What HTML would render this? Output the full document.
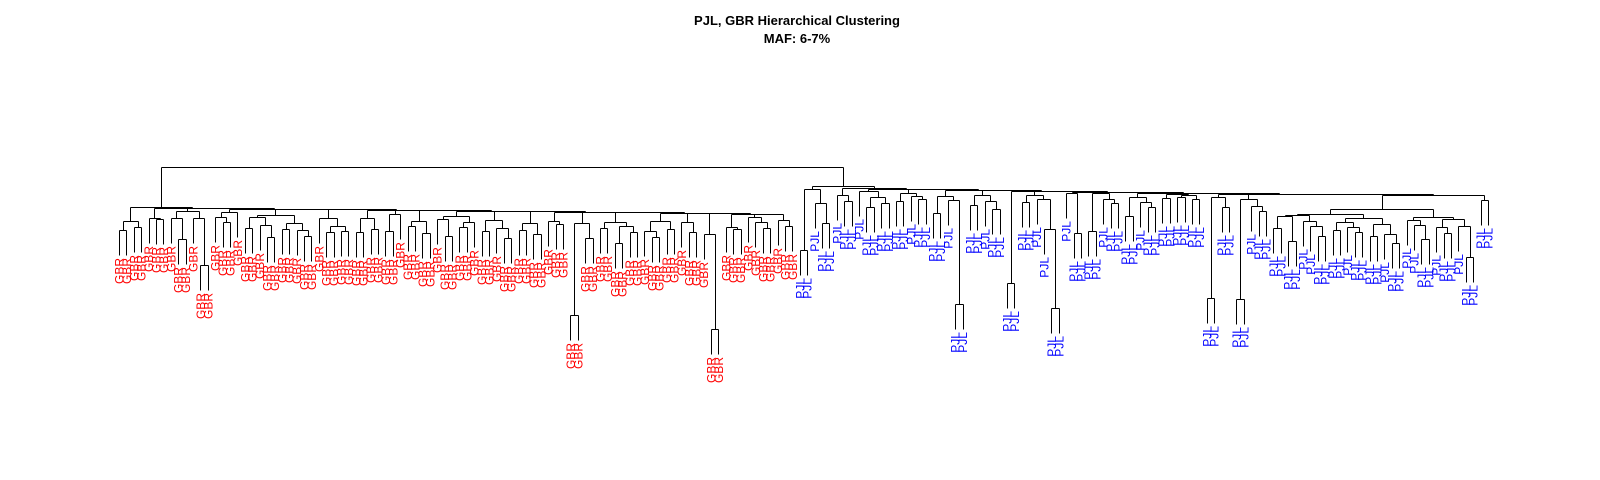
<!DOCTYPE html>
<html>
<head>
<meta charset="utf-8">
<style>
html,body{margin:0;padding:0;background:#fff;}
svg{display:block;}
text{font-family:"Liberation Sans",sans-serif;}
</style>
</head>
<body>
<svg id="chart" width="1600" height="480" viewBox="0 0 1600 480" xmlns="http://www.w3.org/2000/svg">
  <rect width="1600" height="480" fill="#fff"/>
  <text x="797" y="25" text-anchor="middle" font-size="13" font-weight="bold">PJL, GBR Hierarchical Clustering</text>
  <text x="797" y="43" text-anchor="middle" font-size="13" font-weight="bold">MAF: 6-7%</text>
  <g id="lines" stroke="#000" stroke-width="1" fill="none" shape-rendering="crispEdges"></g>
  <g id="labels" font-size="12"></g>
</svg>
<script>
// ---- data: merge heights (dissimilarity units) ----
const rootHeight = 173;
const gbrClusters = [
"((G G)110 (G G)113)119",
"(G (G G)121)122",
"((G (G G)101)122 (G (G G)75)122)129",
"((G (G G)118)123 G)128",
"(((G G)112 (G (G G)103)115)123 ((G G)111 (G (G G)104)110)117)125",
"(G ((G G)108 (G G)109)114)122",
"((G G)108 (G G)111)122",
"((G G)109 G)126",
"((G G)114 (G G)107)119",
"((G (G G)104)121 ((G G)113 G)118)124",
"((G G)109 (G (G G)102)112)120",
"((G G)110 (G G)106)117",
"(G (G G)116)119",
"((G G)25 (G G)102)117",
"((G G)112 ((G G)97 (G G)108)114)118",
"((G (G G)103)109 (G G)111)119",
"(G (G G)108)118",
"(G (G G)11)106",
"(G (G G)111)113",
"(G (G (G G)112)118)123",
"(G (G G)114)120"
];
const gbrJoins = [133,132,132,131,131,131,130,130,130,129,129,129,128,128,128,127,127,127,126,126];
const pjlClusters = [
"((P P)90 (P (P P)117)137)151",
"(P (P P)139)145",
"(P ((P P)133 (P P)137)143)149",
"((P P)139 (P (P P)141)144)147",
"((P P)127 (P (P P)36)140)144",
"((P P)135 (P (P P)131)139)145",
"(P P)57",
"((P P)138 (P (P (P P)32)111)141)145",
"(P (P P)107)147",
"((P P)109 (P (P P)137)141)147",
"((P P)124 (P (P P)133)138)143",
"((P P)142 ((P P)143 (P P)141)145)146",
"((P P)42 (P P)133)143",
"((P P)41 (P (P P)129)134)141",
"((((((P P)112 (P P)99)124 (P (P (P P)104)114)119)125 (((P P)110 (P (P P)108)113)118 ((P P)104 (P (P P)97)106)116)122)126 ((P (P (P P)101)115)120 ((P (P P)107)113 (P (P P)83)114)121)123)131 (P P)140)145"
];
const pjlJoins = [154,152,151,151,150,150,149,149,148,148,147,147,146,146];
const labelNames = {G:"GBR", P:"PJL"};
const labelColors = {G:"#ff0000", P:"#0000ff"};

// ---- layout ----
const x0 = 119, step = 7.4, hang = 25;
function ys(h){ return 340 - h; }

function ladder(clusters, joins){
  let s = clusters[clusters.length-1];
  for(let k = clusters.length-2; k >= 0; k--){
    s = "(" + clusters[k] + " " + s + ")" + joins[k];
  }
  return s;
}
const treeStr = "(" + ladder(gbrClusters, gbrJoins) + " " + ladder(pjlClusters, pjlJoins) + ")" + rootHeight;

function parse(str){
  let p = 0;
  function node(){
    while(str[p] === " ") p++;
    if(str[p] === "("){
      p++;
      const a = node();
      const b = node();
      while(str[p] === " ") p++;
      p++; // ')'
      let num = "";
      while(p < str.length && /[0-9.]/.test(str[p])){ num += str[p]; p++; }
      return {h: parseFloat(num), kids:[a,b]};
    } else {
      const c = str[p]; p++;
      return {leaf:c};
    }
  }
  return node();
}
const tree = parse(treeStr);

let leafIndex = 0;
function assignX(n){
  if(n.leaf){ n.x = x0 + step*leafIndex; leafIndex++; return n.x; }
  const a = assignX(n.kids[0]), b = assignX(n.kids[1]);
  n.x = (a+b)/2; return n.x;
}
assignX(tree);

const NS = "http://www.w3.org/2000/svg";
const gL = document.getElementById("lines");
const gT = document.getElementById("labels");
function line(x1,y1,x2,y2,name){
  const l = document.createElementNS(NS,"line");
  l.setAttribute("x1", Math.round(x1)+0.5); l.setAttribute("y1", Math.round(y1)+0.5);
  l.setAttribute("x2", Math.round(x2)+0.5); l.setAttribute("y2", Math.round(y2)+0.5);
  
  
  gL.appendChild(l);
}
function draw(n){
  const y = ys(n.h);
  line(n.kids[0].x, y, n.kids[1].x, y, "merge-bar");
  n.kids.forEach(c=>{
    if(c.leaf){
      const yb = y + hang;
      line(c.x, y, c.x, yb, "leaf-branch");
      const t = document.createElementNS(NS,"text");
      const tx = c.x + 4.5, ty = yb + 3;
      t.setAttribute("x", tx); t.setAttribute("y", ty);
      t.setAttribute("transform", "rotate(-90 " + tx + " " + ty + ")");
      t.setAttribute("text-anchor", "end");
      t.setAttribute("fill", labelColors[c.leaf]);
      t.textContent = labelNames[c.leaf];
      
      
      gT.appendChild(t);
    } else {
      line(c.x, y, c.x, ys(c.h), "branch");
      draw(c);
    }
  });
}
draw(tree);
</script>
</body>
</html>
